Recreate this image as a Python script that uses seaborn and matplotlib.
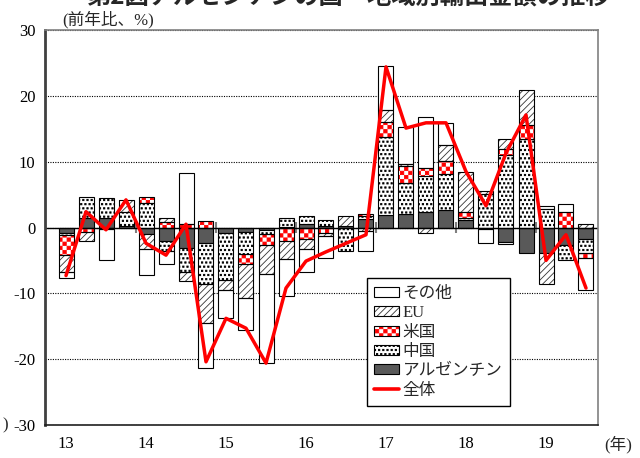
import numpy as np
import matplotlib
matplotlib.use("Agg")
import matplotlib.pyplot as plt
import matplotlib.hatch as mhatch
from matplotlib.path import Path
from matplotlib.patches import Patch
from matplotlib.lines import Line2D
from matplotlib.legend_handler import HandlerTuple
import seaborn as sns

# ---------------- data ----------------
quarters = ["13Q1", "13Q2", "13Q3", "13Q4", "14Q1", "14Q2", "14Q3", "14Q4",
            "15Q1", "15Q2", "15Q3", "15Q4", "16Q1", "16Q2", "16Q3", "16Q4",
            "17Q1", "17Q2", "17Q3", "17Q4", "18Q1", "18Q2", "18Q3", "18Q4",
            "19Q1", "19Q2", "19Q3"]
year_labels = ["13", "14", "15", "16", "17", "18", "19"]

argentina = [-0.8, 1.4, 1.5, 0.3, -1.0, -2.1, -3.1, -2.3, -0.9, -0.7, -0.35, 0.1, 0.5, 0.2,
             0.3, 1.3, 1.9, 2.0, 2.3, 2.7, 1.1, 0.0, -2.2, -3.9, -3.8, -2.6, -1.8]
china = [-0.4, 3.2, 3.0, 2.0, 3.7, -1.5, -3.6, -6.3, -7.0, -3.4, -0.6, 1.3, 1.3, 1.0,
         -3.6, 0.4, 11.9, 4.7, 5.5, 5.5, 0.4, 5.1, 11.0, 13.5, 2.8, -2.3, -2.0]
usa = [-3.0, -0.7, 0.0, 0.0, 1.0, 0.8, 0.5, 1.0, 0.0, -1.4, -1.7, -2.0, -1.7, -0.9,
       0.0, 0.4, 2.3, 2.6, 1.3, 1.9, 0.9, -0.3, 1.0, 2.0, 0.0, 2.3, -0.9]
eu = [-2.5, -1.4, -0.3, 1.9, -2.3, 0.7, -1.4, -5.9, -1.6, -5.2, -4.4, -2.8, -1.6, -0.4,
      1.5, -0.6, 1.8, 0.4, -0.9, 2.4, 6.1, 0.5, 1.5, 5.4, -4.8, 0.0, 0.5]
other = [-0.9, 0.0, -4.6, 0.0, -3.9, -1.9, 7.8, -6.9, -4.3, -4.8, -13.6, -5.6, -3.5, -3.4,
         0.0, -2.9, 6.6, 5.6, 7.7, 3.4, 0.0, -2.0, -0.3, 0.0, 0.4, 1.2, -4.8]
total = [-7.3, 2.4, -0.35, 4.2, -2.4, -4.2, 0.5, -20.4, -13.8, -15.3, -20.6, -9.2, -5.1,
         -3.7, -2.4, -1.1, 24.4, 15.1, 15.9, 15.9, 8.5, 3.3, 11.3, 17.1, -5.0, -1.1, -9.2]


# ---------------- custom hatches (dots and checkerboard) ----------------
class SquareDots(mhatch.Shapes):
    size = 0.16
    filled = True

    def __init__(self, hatch, density):
        self.num_rows = hatch.count('.') * density
        self.shape_vertices = np.array([[-1, -1], [1, -1], [1, 1], [-1, 1], [-1, -1]], float)
        self.shape_codes = np.array([Path.MOVETO, Path.LINETO, Path.LINETO,
                                     Path.LINETO, Path.CLOSEPOLY], dtype=Path.code_type)
        super().__init__(hatch, density)


class Checker(mhatch.HatchPatternBase):
    def __init__(self, hatch, density):
        n = hatch.count('*') * density
        if n % 2:
            n += 1
        self.n = n
        self.num_vertices = (n * n // 2) * 5 if n else 0

    def set_vertices_and_codes(self, vertices, codes):
        s = 1.0 / self.n
        ins = 0.004
        verts = []
        for i in range(self.n):
            for j in range(self.n):
                if (i + j) % 2 == 0:
                    x0, y0 = i * s + ins, j * s + ins
                    x1, y1 = (i + 1) * s - ins, (j + 1) * s - ins
                    verts.append([[x0, y0], [x1, y0], [x1, y1], [x0, y1], [x0, y0]])
        vertices[:] = np.array(verts, float).reshape(-1, 2)
        codes[:] = np.array([Path.MOVETO, Path.LINETO, Path.LINETO, Path.LINETO,
                             Path.CLOSEPOLY] * len(verts), dtype=Path.code_type)


mhatch._hatch_types[:] = [t for t in mhatch._hatch_types
                          if t not in (mhatch.SmallFilledCircles, mhatch.Stars)] + [SquareDots, Checker]

# ---------------- style ----------------
sns.set_style("white")
plt.rcParams['font.family'] = ['Liberation Serif', 'Noto Sans CJK JP']
plt.rcParams['hatch.linewidth'] = 0.6
plt.rcParams['axes.unicode_minus'] = False

fig = plt.figure(figsize=(6.4, 4.58), dpi=100)
ax = fig.add_axes([45 / 640, 33 / 458, 553 / 640, 395 / 458])

x = np.arange(len(quarters))
width = 0.75

series = [
    ("アルゼンチン", argentina, "#595959", None, None),
    ("中国", china, "white", "....", "black"),
    ("米国", usa, "white", "****", "#ff0000"),
    ("EU", eu, "white", "/////", "#333333"),
    ("その他", other, "white", None, None),
]

pos_base = np.zeros(len(x))
neg_base = np.zeros(len(x))
legend_handles = {}
for name, vals, face, hatch, hcol in series:
    v = np.array(vals, float)
    bottoms = np.where(v >= 0, pos_base, neg_base)
    m = v != 0
    if hatch is not None:
        ax.bar(x[m], v[m], bottom=bottoms[m], width=width, color=face,
               hatch=hatch, edgecolor=hcol, linewidth=0, zorder=2)
        ax.bar(x[m], v[m], bottom=bottoms[m], width=width, fill=False,
               edgecolor="black", linewidth=0.8, zorder=2.1)
        legend_handles[name] = (Patch(facecolor=face, hatch=hatch, edgecolor=hcol, linewidth=0),
                                Patch(fill=False, edgecolor="black", linewidth=0.8))
    else:
        ax.bar(x[m], v[m], bottom=bottoms[m], width=width, color=face,
               edgecolor="black", linewidth=0.8, zorder=2)
        legend_handles[name] = Patch(facecolor=face, edgecolor="black", linewidth=0.8)
    pos_base += np.clip(v, 0, None)
    neg_base += np.clip(v, None, 0)

ax.axhline(0, color="black", lw=1.0, zorder=2.5)

year_ticks = x[::4]
ax.vlines(year_ticks[1:] - 0.5, -0.8, 0.8, color="#808080", lw=1.5, zorder=1.5)

sns.lineplot(x=x, y=total, color="#ff0000", lw=2.5, ax=ax, zorder=4,
             estimator=None, sort=False)

ax.set_xlim(-1.05, 26.6)
ax.set_ylim(-30, 30)
ax.set_yticks([30, 20, 10, 0, -10, -20, -30])
ax.set_yticklabels(["30", "20", "10", "0", "-10", "-20", "-30"])
ax.set_xticks(year_ticks)
ax.set_xticklabels(year_labels)
ax.tick_params(axis="both", length=0, labelsize=12, colors="black")
ax.tick_params(axis="y", pad=7)
ax.tick_params(axis="x", pad=8)
ax.set_xlabel("")
ax.set_ylabel("")

ax.set_axisbelow(True)
ax.yaxis.grid(True, linestyle=(0, (1, 1.2)), color="black", lw=0.8)
ax.xaxis.grid(False)

ax.spines["left"].set_color("#404040")
ax.spines["left"].set_linewidth(2.0)
ax.spines["bottom"].set_color("#202020")
ax.spines["bottom"].set_linewidth(1.2)
ax.spines["right"].set_color("#808080")
ax.spines["right"].set_linewidth(1.2)
ax.spines["top"].set_color("#808080")
ax.spines["top"].set_linewidth(1.2)

order = ["その他", "EU", "米国", "中国", "アルゼンチン"]
handles = [legend_handles[k] for k in order] + [Line2D([], [], color="#ff0000", lw=2.6)]
labels = order + ["全体"]
leg = ax.legend(handles, labels, loc="lower left", bbox_to_anchor=(0.582, 0.048),
                fontsize=12, handlelength=1.45, handleheight=0.55, handletextpad=0.25,
                labelspacing=0.2, borderpad=0.45, borderaxespad=0, frameon=True,
                fancybox=False, framealpha=1, edgecolor="black",
                handler_map={tuple: HandlerTuple(ndivide=1, pad=0)})
leg.get_frame().set_linewidth(1.0)
leg.set_zorder(5)

fig.text(62 / 640, 1 - 20 / 458, "(前年比、%)", fontsize=12, ha="left", va="center")
fig.text(632 / 640, 1 - 445 / 458, "(年)", fontsize=12, ha="right", va="center")
fig.text(2 / 640, 1 - 425 / 458, ")", fontsize=12, ha="left", va="center")
fig.text(0.545, 1 - 4 / 458, "第2図アルゼンチンの国・地域別輸出金額の推移",
         fontsize=17.5, fontweight="bold", ha="center", va="baseline",
         family=["Noto Sans CJK JP", "DejaVu Sans"])

fig.savefig("out.png", dpi=100)
